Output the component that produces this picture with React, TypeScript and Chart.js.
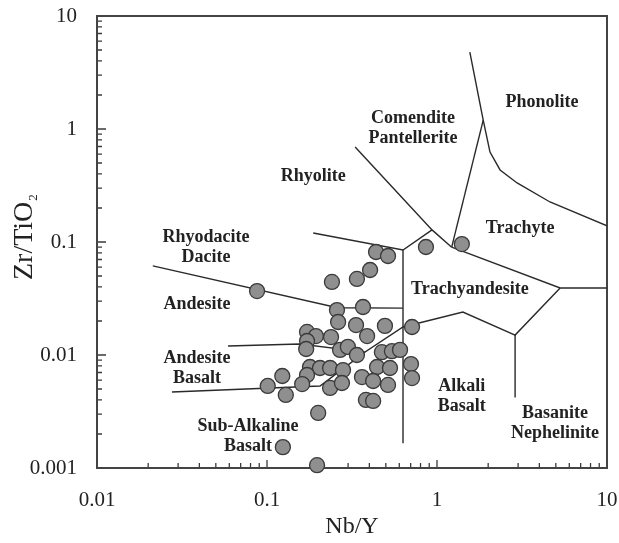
import { useEffect, useRef } from 'react';
import { Chart, registerables } from 'chart.js';

Chart.register(...registerables);

// ---- sample data (Nb/Y, Zr/TiO2) ----
const sampleNbY = [
  0.438, 0.515, 0.861, 1.40, 0.404, 0.338, 0.241, 0.0874, 0.258, 0.367,
  0.262, 0.334, 0.494, 0.713, 0.172, 0.194, 0.238, 0.388, 0.172, 0.170,
  0.269, 0.299, 0.338, 0.474, 0.543, 0.606, 0.179, 0.205, 0.235, 0.280,
  0.444, 0.529, 0.703, 0.123, 0.172, 0.161, 0.101, 0.129, 0.235, 0.276,
  0.362, 0.421, 0.515, 0.713, 0.382, 0.421, 0.200, 0.124, 0.197,
];
const sampleZrTiO2 = [
  0.0816, 0.0752, 0.0903, 0.0959, 0.0565, 0.0471, 0.0443, 0.0368, 0.0250, 0.0266,
  0.0196, 0.0184, 0.0181, 0.0177, 0.0160, 0.0147, 0.0144, 0.0147, 0.0133, 0.0113,
  0.0111, 0.0118, 0.0100, 0.0106, 0.0108, 0.0111, 0.00783, 0.00767, 0.00767, 0.00736,
  0.00783, 0.00767, 0.00832, 0.00652, 0.00665, 0.00553, 0.00532, 0.00443, 0.00511, 0.00565,
  0.00638, 0.00589, 0.00543, 0.00625, 0.00400, 0.00392, 0.00307, 0.00153, 0.00106,
];

// ---- field boundaries [Nb/Y, Zr/TiO2] ----
const phonoliteBoundary: [number, number][] = [
  [1.56, 4.8], [1.87, 1.2], [2.05, 0.625], [2.35, 0.434], [2.96, 0.333], [4.62, 0.226], [10, 0.139],
];
const comenditeTrachyteBoundary: [number, number][] = [[1.87, 1.2], [1.22, 0.09]];
const rhyoliteComenditeBoundary: [number, number][] = [[0.33, 0.693], [0.935, 0.128], [1.22, 0.09]];
const rhyoliteRhyodaciteBoundary: [number, number][] = [[0.187, 0.12], [0.631, 0.0849], [0.935, 0.128]];
const trachyteTrachyandesiteBoundary: [number, number][] = [[1.22, 0.09], [5.3, 0.0392], [10, 0.0392]];
const andesiteAlkaliBoundary: [number, number][] = [
  [0.059, 0.012], [0.156, 0.0125], [0.377, 0.0106], [0.631, 0.0177], [1.42, 0.024], [2.88, 0.015], [5.3, 0.0392],
];
const basaniteBoundary: [number, number][] = [[2.88, 0.015], [2.88, 0.0042]];
const alkaliBasaltBoundary: [number, number][] = [[0.631, 0.0849], [0.631, 0.00166]];
const rhyodaciteAndesiteBoundary: [number, number][] = [[0.0213, 0.0614], [0.26, 0.0262], [0.631, 0.026]];
const subAlkalineBoundary: [number, number][] = [[0.0276, 0.00471], [0.205, 0.00532], [0.377, 0.0106]];

const boundaries = [
  phonoliteBoundary, comenditeTrachyteBoundary, rhyoliteComenditeBoundary, rhyoliteRhyodaciteBoundary,
  trachyteTrachyandesiteBoundary, andesiteAlkaliBoundary, basaniteBoundary, alkaliBasaltBoundary,
  rhyodaciteAndesiteBoundary, subAlkalineBoundary,
];

// ---- field names ----
const fieldNames: { lines: string[]; x: number; y: number }[] = [
  { lines: ['Phonolite'], x: 4.15, y: 1.73 },
  { lines: ['Comendite', 'Pantellerite'], x: 0.723, y: 1.02 },
  { lines: ['Rhyolite'], x: 0.187, y: 0.384 },
  { lines: ['Trachyte'], x: 3.08, y: 0.133 },
  { lines: ['Rhyodacite', 'Dacite'], x: 0.0438, y: 0.0903 },
  { lines: ['Trachyandesite'], x: 1.56, y: 0.0384 },
  { lines: ['Andesite'], x: 0.0387, y: 0.0283 },
  { lines: ['Andesite', 'Basalt'], x: 0.0387, y: 0.00767 },
  { lines: ['Alkali', 'Basalt'], x: 1.4, y: 0.00434 },
  { lines: ['Basanite', 'Nephelinite'], x: 4.94, y: 0.0025 },
  { lines: ['Sub-Alkaline', 'Basalt'], x: 0.0773, y: 0.00192 },
];

const xTickValues = [0.01, 0.1, 1, 10];
const yTickValues = [0.001, 0.01, 0.1, 1, 10];

const SERIF = '"Liberation Serif", "Times New Roman", serif';

const zeroPad = (s: any) => {
  s.paddingTop = 0;
  s.paddingBottom = 0;
  s.paddingLeft = 0;
  s.paddingRight = 0;
};

const decorPlugin = {
  id: 'decor',
  beforeDatasetsDraw(chart: any) {
    const { ctx, chartArea: a, scales } = chart;
    const xs = scales.x;
    const ys = scales.y;
    ctx.save();
    ctx.strokeStyle = '#3a3a3a';
    ctx.lineWidth = 1.3;
    // inward tick marks
    ctx.beginPath();
    for (let d = -2; d <= 0; d++) {
      for (let m = 1; m <= 9; m++) {
        const v = m * Math.pow(10, d);
        const px = xs.getPixelForValue(v);
        const len = m === 1 ? 8 : 5;
        ctx.moveTo(px, a.bottom);
        ctx.lineTo(px, a.bottom - len);
      }
    }
    for (let d = -3; d <= 0; d++) {
      for (let m = 1; m <= 9; m++) {
        const v = m * Math.pow(10, d);
        const py = ys.getPixelForValue(v);
        const len = m === 1 ? 9 : 5;
        ctx.moveTo(a.left, py);
        ctx.lineTo(a.left + len, py);
      }
    }
    const topPy = ys.getPixelForValue(10);
    ctx.moveTo(a.left, topPy);
    ctx.lineTo(a.left + 9, topPy);
    ctx.stroke();
    // frame
    ctx.lineWidth = 2;
    ctx.strokeStyle = '#444';
    ctx.strokeRect(a.left, a.top, a.right - a.left, a.bottom - a.top);
    // field names
    ctx.fillStyle = '#222';
    ctx.font = `bold 18px ${SERIF}`;
    ctx.textAlign = 'center';
    ctx.textBaseline = 'middle';
    for (const f of fieldNames) {
      const cx = xs.getPixelForValue(f.x);
      const cy = ys.getPixelForValue(f.y);
      const n = f.lines.length;
      f.lines.forEach((t, i) => {
        ctx.fillText(t, cx, cy + (i - (n - 1) / 2) * 20);
      });
    }
    // y-axis title with subscript
    ctx.save();
    ctx.translate(32, 280);
    ctx.rotate(-Math.PI / 2);
    ctx.textAlign = 'left';
    ctx.textBaseline = 'alphabetic';
    ctx.font = `28px ${SERIF}`;
    const main = 'Zr/TiO';
    ctx.fillText(main, 0, 0);
    const w = ctx.measureText(main).width;
    ctx.font = `13px ${SERIF}`;
    ctx.fillText('2', w + 1, 5);
    ctx.restore();
    ctx.restore();
  },
};

export default function App() {
  const ref = useRef<HTMLCanvasElement>(null);
  useEffect(() => {
    const canvas = ref.current;
    if (!canvas) return;
    const lineSets = boundaries.map((b) => ({
      type: 'scatter' as const,
      data: b.map(([x, y]) => ({ x, y })),
      showLine: true,
      borderColor: '#2a2a2a',
      borderWidth: 1.4,
      pointRadius: 0,
      fill: false,
      tension: 0,
      order: 2,
    }));
    const chart = new Chart(canvas, {
      type: 'scatter',
      data: {
        datasets: [
          {
            data: sampleNbY.map((x, i) => ({ x, y: sampleZrTiO2[i] })),
            pointRadius: 7.5,
            pointBackgroundColor: '#8f8f8f',
            pointBorderColor: '#3a3a3a',
            pointBorderWidth: 1.3,
            clip: false as any,
            order: 1,
          },
          ...lineSets,
        ] as any,
      },
      options: {
        responsive: false,
        animation: false,
        layout: { autoPadding: false, padding: { left: 0, top: 16, right: 12, bottom: 0 } },
        plugins: { legend: { display: false }, tooltip: { enabled: false } },
        scales: {
          x: {
            type: 'logarithmic',
            min: 0.01,
            max: 10,
            grid: { display: false, drawTicks: false },
            border: { display: false },
            afterBuildTicks: (s: any) => {
              s.ticks = xTickValues.map((v) => ({ value: v }));
            },
            afterFit: (s: any) => {
              s.height = 75;
              zeroPad(s);
            },
            ticks: {
              autoSkip: false,
              maxRotation: 0,
              padding: 20,
              color: '#222',
              font: { family: SERIF, size: 21 },
              callback: (v: any) => String(v),
            },
            title: {
              display: true,
              text: 'Nb/Y',
              color: '#222',
              font: { family: SERIF, size: 24 },
              padding: { top: 0, bottom: 2 },
            },
          },
          y: {
            type: 'logarithmic',
            min: 0.001,
            max: 10,
            grid: { display: false, drawTicks: false },
            border: { display: false },
            afterBuildTicks: (s: any) => {
              s.ticks = yTickValues.map((v) => ({ value: v }));
            },
            afterFit: (s: any) => {
              s.width = 97;
              zeroPad(s);
            },
            ticks: {
              autoSkip: false,
              padding: 20,
              color: '#222',
              font: { family: SERIF, size: 21 },
              callback: (v: any) => String(v),
            },
          },
        },
      },
      plugins: [decorPlugin],
    });
    return () => chart.destroy();
  }, []);
  return (
    <div style={{ position: 'absolute', left: 0, top: 0, width: 619, height: 543, background: '#fff' }}>
      <canvas ref={ref} width={619} height={543} style={{ display: 'block', width: 619, height: 543 }} />
    </div>
  );
}
